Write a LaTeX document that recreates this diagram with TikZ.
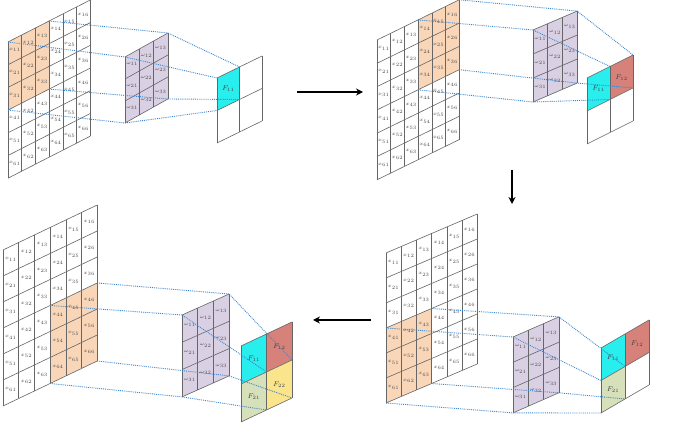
\documentclass[tikz,border=0pt]{standalone}
\usetikzlibrary{arrows.meta}
\definecolor{cOr}{RGB}{250,214,184}
\definecolor{cKe}{RGB}{218,208,228}
\definecolor{cCy}{RGB}{40,238,238}
\definecolor{cRe}{RGB}{214,130,122}
\definecolor{cGr}{RGB}{214,224,186}
\definecolor{cYe}{RGB}{250,228,140}
\definecolor{cDa}{RGB}{60,135,205}
\tikzset{gl/.style={draw=black!60,line width=0.6pt},
 dl/.style={draw=cDa,densely dotted,line width=0.9pt},
 lab/.style={font=\fontsize{4.5}{5}\selectfont,text=black!70,inner sep=0pt},
 olab/.style={font=\scriptsize,text=black!75,inner sep=0pt},
 bigarrow/.style={-{Stealth[length=7pt,width=7pt]},line width=1.5pt}}
% #1 name, #2 tx, #3 ty, #4 cw, #5 b, #6 rh, #7 n, #8 fill code, #9 label code
\newcommand\mygrid[9]{%
\begin{scope}[cm={#4,#5,0,#6,(#2pt,#3pt)}]
#8
\foreach \k in {0,...,#7}{\draw[gl] (\k,0) -- (\k,-#7); \draw[gl] (0,-\k) -- (#7,-\k);}
\foreach \i in {0,...,#7}{\foreach \j in {0,...,#7}{\coordinate (#1-\i-\j) at (\j,-\i);}}
#9
\end{scope}}
\newcommand\inlabels[1]{\foreach \i in {1,...,6}{\foreach \j in {1,...,6}{\node[lab] (#1-l\i\j) at (\j-0.5,-\i+0.5) {$x_{\i\j}$};}}}
\newcommand\klabels[1]{\foreach \i in {1,...,3}{\foreach \j in {1,...,3}{\node[lab] (#1-l\i\j) at (\j-0.5,-\i+0.5) {$\omega_{\i\j}$};}}}
% #1 panel prefix, #2 patch row, #3 patch col, #4 out row, #5 out col
\newcommand\links[5]{%
\pgfmathtruncatemacro\ra{#2+3}\pgfmathtruncatemacro\ca{#3+3}%
\pgfmathtruncatemacro\oa{#4+1}\pgfmathtruncatemacro\ob{#5+1}%
\draw[dl] (#1i-#2-#3) -- (#1k-0-0) -- (#1o-#4-#5);
\draw[dl] (#1i-#2-\ca) -- (#1k-0-3) -- (#1o-#4-\ob);
\draw[dl] (#1i-\ra-#3) -- (#1k-3-0) -- (#1o-\oa-#5);
\draw[dl] (#1i-\ra-\ca) -- (#1k-3-3) -- (#1o-\oa-\ob);}
\begin{document}
\begin{tikzpicture}[x=1pt,y=1pt]
\useasboundingbox[fill=white] (0,0) rectangle (673,434);
% Panel 1
\mygrid{Ai}{8}{392}{13.7}{7}{22.7}{6}{\fill[cOr] (0,0) rectangle (3,-3);}{\inlabels{Ai}}
\mygrid{Ak}{125}{377}{14.3}{8}{22}{3}{\fill[cKe] (0,0) rectangle (3,-3);}{\klabels{Ak}}
\mygrid{Ao}{217}{356}{22.5}{11}{32.5}{2}{\fill[cCy] (0,0) rectangle (1,-1);}{\node[olab] (Ao-f11) at (0.5,-0.5) {$F_{11}$};}
\links{A}{0}{0}{0}{0}
% Panel 2
\mygrid{Bi}{377}{394}{13.7}{6.7}{23.3}{6}{\fill[cOr] (3,0) rectangle (6,-3);}{\inlabels{Bi}}
\mygrid{Bk}{533}{404}{14.7}{6.3}{24}{3}{\fill[cKe] (0,0) rectangle (3,-3);}{\klabels{Bk}}
\mygrid{Bo}{587}{356}{23}{11.5}{33}{2}{\fill[cCy] (0,0) rectangle (1,-1);\fill[cRe] (1,0) rectangle (2,-1);}{\node[olab] (Bo-f11) at (0.5,-0.5) {$F_{11}$};\node[olab] (Bo-f12) at (1.5,-0.5) {$F_{12}$};}
\links{B}{0}{3}{0}{1}
% Panel 3 (bottom right)
\mygrid{Ci}{386}{181}{15.2}{6.5}{25}{6}{\fill[cOr] (0,-3) rectangle (3,-6);}{\inlabels{Ci}}
\mygrid{Ck}{513}{97}{15.3}{6.7}{25.3}{3}{\fill[cKe] (0,0) rectangle (3,-3);}{\klabels{Ck}}
\mygrid{Co}{601}{86}{24}{14}{32.5}{2}{\fill[cCy] (0,0) rectangle (1,-1);\fill[cRe] (1,0) rectangle (2,-1);\fill[cGr] (0,-1) rectangle (1,-2);}{\node[olab] (Co-f11) at (0.5,-0.5) {$F_{11}$};\node[olab] (Co-f12) at (1.5,-0.5) {$F_{12}$};\node[olab] (Co-f21) at (0.5,-1.5) {$F_{21}$};}
\links{C}{3}{0}{1}{0}
% Panel 4 (bottom left)
\mygrid{Di}{3}{184}{15.7}{7.5}{26}{6}{\fill[cOr] (3,-3) rectangle (6,-6);}{\inlabels{Di}}
\mygrid{Dk}{182}{119}{15.7}{7}{27.3}{3}{\fill[cKe] (0,0) rectangle (3,-3);}{\klabels{Dk}}
\mygrid{Do}{241}{88}{25.5}{12}{38}{2}{\fill[cCy] (0,0) rectangle (1,-1);\fill[cRe] (1,0) rectangle (2,-1);\fill[cGr] (0,-1) rectangle (1,-2);\fill[cYe] (1,-1) rectangle (2,-2);}{\node[olab] (Do-f11) at (0.5,-0.5) {$F_{11}$};\node[olab] (Do-f12) at (1.5,-0.5) {$F_{12}$};\node[olab] (Do-f21) at (0.5,-1.5) {$F_{21}$};\node[olab] (Do-f22) at (1.5,-1.5) {$F_{22}$};}
\links{D}{3}{3}{1}{1}
% arrows
\coordinate (a1s) at (297,342); \coordinate (a1e) at (363,342);
\coordinate (a2s) at (512,264); \coordinate (a2e) at (512,230);
\coordinate (a3s) at (371,114); \coordinate (a3e) at (313,114);
\draw[bigarrow] (a1s) -- (a1e);
\draw[bigarrow] (a2s) -- (a2e);
\draw[bigarrow] (a3s) -- (a3e);
\end{tikzpicture}
\end{document}
